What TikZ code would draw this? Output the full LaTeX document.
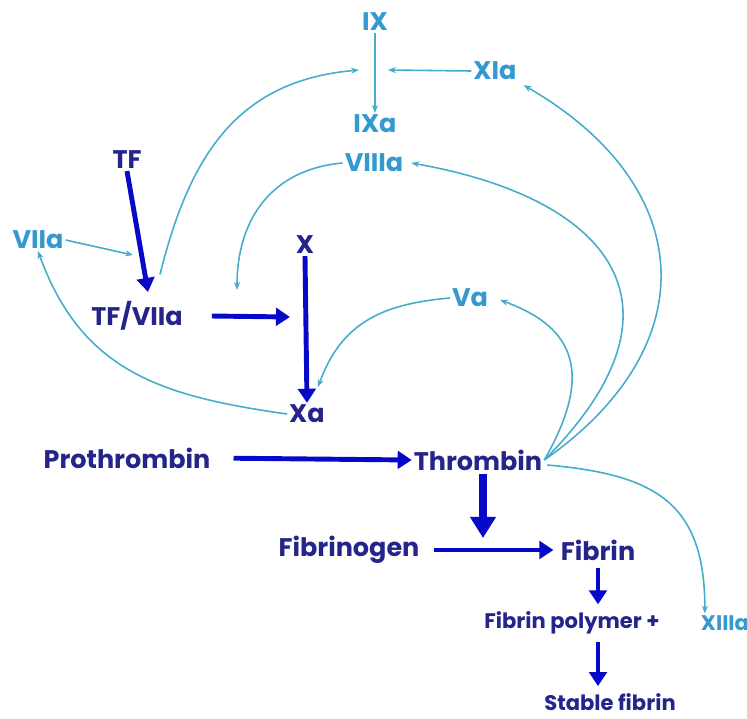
\documentclass[tikz,border=0pt]{standalone}
\usepackage{fontspec}
\setmainfont{Poppins}
\usepackage{xcolor}
\usetikzlibrary{arrows.meta, calc}

\definecolor{navy}{HTML}{24248A}
\definecolor{convblue}{HTML}{0808C8}
\definecolor{acttext}{HTML}{3399CF}
\definecolor{feedline}{HTML}{45ADCB}

\begin{document}
\begin{tikzpicture}[
    x=0.02cm, y=0.02cm,
    fac/.style={font=\fontsize{14.5}{16}\selectfont\bfseries, text=navy, inner sep=1pt},
    act/.style={font=\fontsize{14.5}{16}\selectfont\bfseries, text=acttext, inner sep=1pt},
    small/.style={font=\fontsize{12}{14}\selectfont\bfseries},
    conv/.style={draw=convblue, line width=2.8pt, -{Triangle[length=8pt, width=10pt]}},
    bigconv/.style={draw=convblue, line width=4pt, -{Triangle[length=12pt, width=14pt]}},
    feed/.style={draw=feedline, line width=0.9pt, -{Stealth[length=4.5pt, width=3.5pt]}}
]
\useasboundingbox (0,0) rectangle (747,-718);

% Intrinsic / extrinsic factors
\node[act] (IX) at (375,-22) {IX};
\node[act] (IXa) at (375,-124) {IXa};
\node[act] (XIa) at (495,-71) {XIa};
\node[act] (VIIIa) at (374,-163) {VIIIa};
\node[fac] (TF) at (127,-160) {TF};
\node[act] (VIIa) at (38,-240) {VIIa};
\node[fac] (X) at (305,-245) {X};
\node[fac] (TFVIIa) at (137,-316) {TF/VIIa};
\node[act] (Va) at (470,-298) {Va};
\node[fac] (Xa) at (307,-414) {Xa};

% Common pathway
\node[fac] (Prothrombin) at (127,-458) {Prothrombin};
\node[fac] (Thrombin) at (478,-460) {Thrombin};
\node[fac] (Fibrinogen) at (349,-550) {Fibrinogen};
\node[fac] (Fibrin) at (598,-550) {Fibrin};
\node[fac, small] (polymer) at (572,-623) {Fibrin polymer +};
\node[act, small] (XIIIa) at (725,-623) {XIIIa};
\node[fac, small] (stable) at (610,-702) {Stable fibrin};

% hit points on other arrows
\coordinate (ixleft) at (359,-70);
\coordinate (ixright) at (388,-70);
\coordinate (tfhit) at (133,-255);
\coordinate (tfvhead) at (148,-292);
\coordinate (tfxhit) at (237,-290);
\coordinate (xhit) at (290,-317);
\coordinate (xahit) at (318,-387);
\coordinate (fibhit) at (483,-538);

% Thick conversions
\draw[conv] (TF.south) -- (tfvhead);
\draw[conv] ($(TFVIIa.east)+(27,0)$) -- (xhit);
\draw[conv] (X.south) -- (Xa.north);
\draw[conv, shorten <=12pt] (Prothrombin.east) -- (Thrombin.west);
\draw[bigconv] ($(Thrombin.south)+(5,-2)$) -- (fibhit);
\draw[conv, shorten <=7pt, shorten >=3pt] (Fibrinogen.east) -- (Fibrin.west);
\draw[conv, shorten <=3pt, shorten >=3pt] (Fibrin.south) -- (Fibrin.south |- polymer.north);
\draw[conv, shorten <=3pt, shorten >=3pt] (Fibrin.south |- polymer.south) -- (Fibrin.south |- stable.north);

% Thin activations
\draw[feed] (VIIa.east) -- (tfhit);
\draw[feed] (IX) -- (IXa);
\draw[feed] (XIa.west) -- (ixright);
\draw[feed] ($(TFVIIa.north)+(23,25)$) to[out=76, in=185, looseness=1.1] (ixleft);
\draw[feed] (VIIIa.west) to[out=185, in=90, looseness=1.1] (tfxhit);
\draw[feed] (Va.west) to[out=185, in=70, looseness=1.1] (xahit);
\draw[feed] (Xa.west) to[out=172, in=-70, looseness=1.1] (VIIa.south);

% Thrombin feedback
\draw[feed] (Thrombin.east) .. controls +(35:200) and +(-30:200) .. ($(XIa.south east)+(5,-3)$);
\draw[feed] (Thrombin.east) .. controls +(45:220) and +(-10:200) .. ($(VIIIa.east)+(6,0)$);
\draw[feed] (Thrombin.east) .. controls +(60:110) and +(-20:70) .. ($(Va.east)+(10,-2)$);
\draw[feed] ($(Thrombin.east)+(3,-5)$) to[out=-5, in=90, looseness=1.3] ($(XIIIa.north west)+(6,0)$);

\end{tikzpicture}
\end{document}
